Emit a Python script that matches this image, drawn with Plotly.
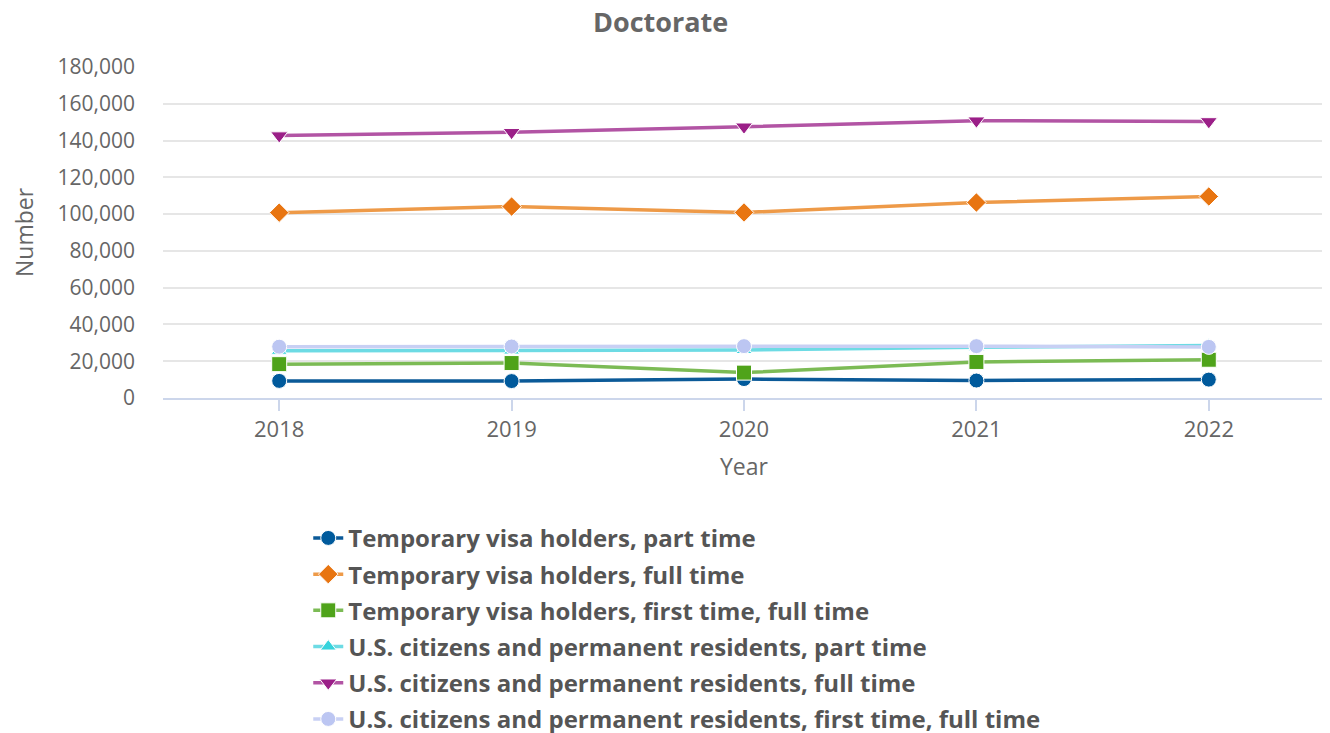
import plotly.graph_objects as go

years = [2018, 2019, 2020, 2021, 2022]
series_names = [
    "Temporary visa holders, part time",
    "Temporary visa holders, full time",
    "Temporary visa holders, first time, full time",
    "U.S. citizens and permanent residents, part time",
    "U.S. citizens and permanent residents, full time",
    "U.S. citizens and permanent residents, first time, full time",
]
temp_part = [9300, 9200, 10300, 9500, 10000]
temp_full = [100800, 104100, 100900, 106300, 109600]
temp_first_full = [18400, 19000, 13800, 19600, 20800]
us_part = [25700, 25800, 26100, 27600, 28600]
us_full = [142700, 144500, 147500, 150800, 150400]
us_first_full = [27900, 28000, 28200, 28200, 27800]

values = [temp_part, temp_full, temp_first_full, us_part, us_full, us_first_full]
marker_colors = ["#005a9c", "#e87511", "#4fa31a", "#36d3dc", "#9b1f88", "#bcc6f2"]
line_colors = ["#0b5a98", "#ee9a48", "#7cbb55", "#6ddbe4", "#b254a4", "#c8d0f4"]
symbols = ["circle", "diamond", "square", "triangle-up", "triangle-down", "circle"]
sizes = [15, 15, 15, 14, 15, 15]

fig = go.Figure()
for i, (name, vals, mc, lc, sym, sz) in enumerate(zip(series_names, values, marker_colors, line_colors, symbols, sizes)):
    fig.add_trace(go.Scatter(
        x=years, y=vals, name="<b>" + name + "</b>", mode="lines+markers",
        legendgroup="g%d" % i,
        line=dict(color=lc, width=3.5),
        marker=dict(symbol=sym, size=sz, color=mc, line=dict(color="white", width=1)),
    ))

# page body has an 8px offset, so margins are reduced accordingly
fig.update_layout(
    width=1330, height=733,
    margin=dict(l=155, r=13, t=59, b=343, autoexpand=False),
    paper_bgcolor="white", plot_bgcolor="white",
    font=dict(family="Open Sans", color="#666666", size=20),
    xaxis=dict(
        range=[2017.5, 2022.5], tickvals=years, ticktext=[str(y) for y in years],
        showgrid=False, showline=True, linecolor="#ccd6eb", linewidth=2,
        ticks="outside", ticklen=11, tickcolor="#ccd6eb", tickwidth=2,
        title=dict(text="Year", font=dict(size=23, color="#666666"), standoff=16),
        tickfont=dict(size=22, color="#666666"), zeroline=False,
    ),
    yaxis=dict(
        range=[0, 180000], tickvals=list(range(0, 180001, 20000)),
        tickformat=",", showgrid=True, gridcolor="#e6e6e6", gridwidth=1.5,
        zeroline=False, showline=False, ticks="", ticklabelstandoff=27,
        title=dict(text="Number", font=dict(size=23, color="#666666"), standoff=20),
        tickfont=dict(size=21, color="#666666"),
    ),
    legend=dict(
        x=0.125, xanchor="left", y=-0.356, yanchor="top",
        font=dict(size=24, color="#555555", family="Open Sans"),
        tracegroupgap=2, itemwidth=30, bgcolor="rgba(0,0,0,0)",
        traceorder="grouped",
    ),
    showlegend=True,
    annotations=[dict(
        text="<b>Doctorate</b>", xref="paper", yref="paper",
        x=(660 - 163) / 1162, y=1 + (398 - 22 - 331) / 331 + 0.0,
        xanchor="center", yanchor="middle", showarrow=False,
        font=dict(size=27, color="#666666", family="Open Sans"),
    )],
)

fig.write_html("out.html")
